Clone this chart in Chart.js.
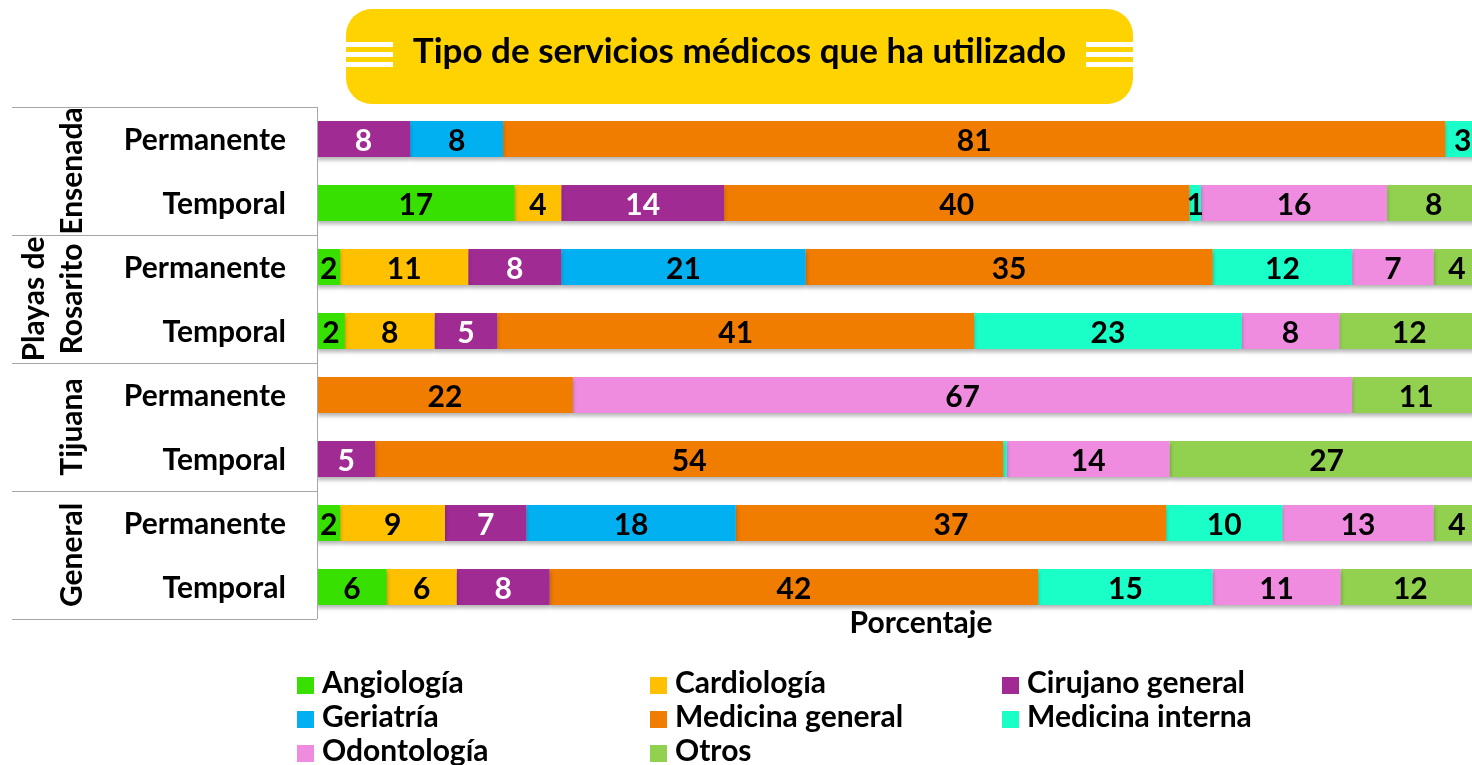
<!DOCTYPE html>
<html lang="es">
<head>
    <meta charset="UTF-8">
    <title>Tipo de servicios médicos que ha utilizado</title>
    <script src="https://cdn.jsdelivr.net/npm/chart.js"></script>
    <style>
        body {
            margin: 0;
            width: 1472px;
            height: 765px;
            overflow: hidden;
            background: #fff;
            position: relative;
            font-family: Lato, "Open Sans", sans-serif;
            font-weight: bold;
            color: #000;
        }

        #grafica {
            position: absolute;
            left: 0;
            top: 0;
        }

        .titulo {
            position: absolute;
            left: 346px;
            top: 9px;
            width: 787px;
            height: 95px;
            background: #ffd300;
            border-radius: 26px;
        }

        .titulo span {
            position: absolute;
            left: 0;
            right: 0;
            top: 18px;
            text-align: center;
            font-size: 35px;
            line-height: 44px;
        }

        .rayas {
            position: absolute;
            top: 33px;
            width: 47px;
            height: 25px;
            background: repeating-linear-gradient(to bottom, #fff 0 5px, transparent 5px 10px);
        }

        .item {
            position: absolute;
            height: 30px;
            line-height: 30px;
            font-size: 30px;
            white-space: nowrap;
        }

        .item i {
            display: inline-block;
            width: 17px;
            height: 17px;
            margin-right: 8px;
            vertical-align: -1px;
        }
    </style>
</head>
<body>
    <canvas id="grafica" width="1472" height="765"></canvas>

    <div class="titulo">
        <div class="rayas" style="left:0"></div>
        <span>Tipo de servicios médicos que ha utilizado</span>
        <div class="rayas" style="right:0"></div>
    </div>

    <div id="leyenda"></div>

    <script>
        const grupos = ['Ensenada', 'Playas de\nRosarito', 'Tijuana', 'General'];
        const filas = ['Permanente', 'Temporal', 'Permanente', 'Temporal', 'Permanente', 'Temporal', 'Permanente', 'Temporal'];
        const servicios = ['Angiología', 'Cardiología', 'Cirujano general', 'Geriatría', 'Medicina general', 'Medicina interna', 'Odontología', 'Otros'];
        const colores = ['#38e000', '#ffc000', '#a02b93', '#00b0f0', '#f07c00', '#1affc8', '#f08ce0', '#92d050'];

        // un arreglo por servicio, en el orden de las filas
        const angiologia  = [0, 17, 2, 2.4, 0, 0, 2, 6];
        const cardiologia = [0, 4, 11, 7.7, 0, 0, 9, 6];
        const cirujano    = [8, 14, 8, 5.4, 0, 5, 7, 8];
        const geriatria   = [8, 0, 21, 0, 0, 0, 18, 0];
        const medGeneral  = [81, 40, 35, 41, 22, 54, 37, 42];
        const medInterna  = [3, 1, 12, 23, 0, 0.3, 10, 15];
        const odontologia = [0, 16, 7, 8.4, 67, 14, 13, 11];
        const otros       = [0, 8, 4, 12, 11, 27, 4, 12];

        const valores = [angiologia, cardiologia, cirujano, geriatria, medGeneral, medInterna, odontologia, otros];

        const fuente = 'bold 30px Lato, "Open Sans", sans-serif';

        // sombra suave debajo de las barras
        const sombra = {
            id: 'sombra',
            beforeDatasetsDraw(chart) {
                const c = chart.ctx;
                c.save();
                c.shadowColor = 'rgba(0,0,0,0.3)';
                c.shadowBlur = 4;
                c.shadowOffsetY = 3;
            },
            afterDatasetsDraw(chart) {
                chart.ctx.restore();
            }
        };

        // numeros dentro de las barras, tabla de la izquierda y titulo del eje
        const etiquetas = {
            id: 'etiquetas',
            afterDraw(chart) {
                const { ctx, chartArea, scales: { y } } = chart;
                ctx.save();
                ctx.font = fuente;
                ctx.textBaseline = 'middle';
                ctx.textAlign = 'center';

                chart.data.datasets.forEach((ds, i) => {
                    const meta = chart.getDatasetMeta(i);
                    meta.data.forEach((bar, j) => {
                        const v = ds.data[j];
                        if (v < 0.5) return;
                        ctx.fillStyle = i === 2 ? '#fff' : '#000';
                        ctx.fillText(Math.round(v), (bar.x + bar.base) / 2, bar.y + 2);
                    });
                });

                // lineas de la tabla
                ctx.strokeStyle = '#a6a6a6';
                ctx.lineWidth = 1;
                const paso = y.getPixelForValue(1) - y.getPixelForValue(0);
                for (let g = 0; g <= grupos.length; g++) {
                    const yy = Math.round(y.getPixelForValue(g * 2) - paso / 2) + 0.5;
                    ctx.beginPath();
                    ctx.moveTo(12, yy);
                    ctx.lineTo(chartArea.left, yy);
                    ctx.stroke();
                }
                ctx.beginPath();
                ctx.moveTo(chartArea.left + 0.5, chartArea.top);
                ctx.lineTo(chartArea.left + 0.5, chartArea.bottom);
                ctx.stroke();

                // nombres de las filas
                ctx.fillStyle = '#000';
                ctx.textAlign = 'right';
                filas.forEach((f, j) => ctx.fillText(f, 286, y.getPixelForValue(j) + 1));

                // nombres de los grupos, girados
                ctx.textAlign = 'center';
                ctx.textBaseline = 'alphabetic';
                grupos.forEach((g, k) => {
                    const yc = (y.getPixelForValue(k * 2) + y.getPixelForValue(k * 2 + 1)) / 2;
                    const lineas = g.split('\n');
                    lineas.forEach((l, n) => {
                        const xb = 82 - (lineas.length - 1 - n) * 38;
                        ctx.save();
                        ctx.translate(xb, yc);
                        ctx.rotate(-Math.PI / 2);
                        ctx.fillText(l, 0, 0);
                        ctx.restore();
                    });
                });

                ctx.textBaseline = 'middle';
                ctx.fillText('Porcentaje', 921, 623);
                ctx.restore();
            }
        };

        new Chart(document.getElementById('grafica'), {
            type: 'bar',
            data: {
                labels: filas,
                datasets: servicios.map((s, i) => ({
                    label: s,
                    data: valores[i],
                    backgroundColor: colores[i],
                    borderWidth: 0,
                    barPercentage: 0.5625,
                    categoryPercentage: 1
                }))
            },
            options: {
                indexAxis: 'y',
                responsive: false,
                animation: false,
                layout: { padding: { left: 317, top: 107, right: 0, bottom: 146 } },
                scales: {
                    x: { stacked: true, min: 0, max: 99.3, display: false },
                    y: { stacked: true, display: false }
                },
                plugins: {
                    legend: { display: false },
                    tooltip: { enabled: false }
                }
            },
            plugins: [sombra, etiquetas]
        });

        // leyenda en tres columnas
        const columnas = [297, 650, 1002];
        const leyenda = document.getElementById('leyenda');
        servicios.forEach((s, i) => {
            const d = document.createElement('div');
            d.className = 'item';
            d.style.left = columnas[i % 3] + 'px';
            d.style.top = (666 + Math.floor(i / 3) * 34) + 'px';
            d.innerHTML = '<i style="background:' + colores[i] + '"></i>' + s;
            leyenda.appendChild(d);
        });
    </script>
</body>
</html>
